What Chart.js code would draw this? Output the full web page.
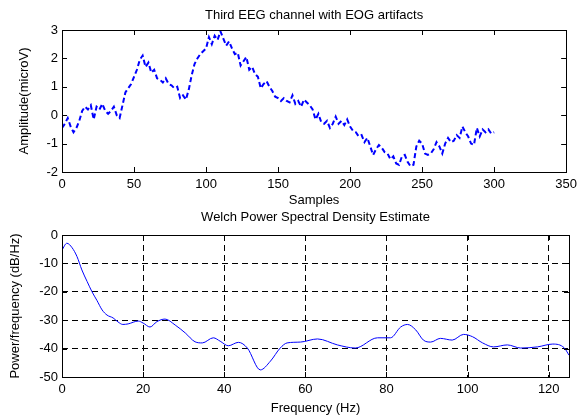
<!DOCTYPE html>
<html>
<head>
<meta charset="utf-8">
<script src="https://cdn.jsdelivr.net/npm/chart.js@4"></script>
<style>
    body { margin: 0; background: #fff; }
    canvas { position: absolute; left: 0; }
    #eegChart { top: 0; }
    #psdChart { top: 210px; }
</style>
</head>
<body>
<canvas id="eegChart" width="582" height="210"></canvas>
<canvas id="psdChart" width="582" height="209"></canvas>
<script>
// third EEG channel, one value every 2 samples (0..300)
var sampleStep = 2;
var eegValues = [
    -0.45, -0.3, -0.1, -0.4, -0.6, -0.45, -0.2, 0.15, 0.3, 0.2,
    0.35, -0.15, 0.3, 0.2, 0.4, 0.15, 0.05, 0.15, 0.3, 0.0,
    -0.1, 0.35, 0.8, 0.95, 1.1,
    1.35, 1.6, 1.95, 2.1, 1.7, 1.85, 1.5, 1.6, 1.3, 1.25,
    1.15, 1.3, 1.1, 1.05, 0.95, 1.0, 0.6, 0.7, 0.55, 0.9,
    1.4, 1.8, 2.0, 2.15, 2.25,
    2.35, 2.75, 2.5, 2.8, 2.65, 2.95, 2.7, 2.45, 2.6, 2.35,
    2.15, 2.2, 1.75, 1.9, 2.05, 1.6, 1.7, 1.45, 1.35, 0.95,
    1.1, 1.2, 1.0, 0.85, 0.65,
    0.6, 0.5, 0.6, 0.5, 0.45, 0.7, 0.4, 0.5, 0.3, 0.55,
    0.45, 0.35, 0.2, -0.15, 0.05, -0.25, -0.3, -0.2, -0.45, -0.3,
    -0.05, -0.3, -0.2, -0.35, -0.15,
    -0.4, -0.55, -0.6, -0.75, -0.7, -0.95, -0.8, -1.1, -1.4, -1.2,
    -1.05, -1.15, -1.3, -1.35, -1.55, -1.45, -1.7, -1.75, -1.45, -1.4,
    -1.65, -1.8, -1.75, -1.1, -0.9,
    -1.0, -1.35, -1.4, -1.35, -1.2, -0.95, -1.1, -1.35, -1.0, -0.8,
    -0.95, -0.9, -0.7, -0.8, -0.4, -0.6, -0.75, -1.0, -1.05, -0.45,
    -0.75, -0.5, -0.6, -0.5, -0.65, -0.6
];

// Welch PSD estimate
var psdFreq = [
    0, 1.2, 2.5, 3.7, 4.9, 6.2, 7.4, 8.6, 9.9, 11.1,
    12.6, 13.8, 15, 16.3, 18.8, 20, 21.7, 23.4, 25.4, 27.9,
    30.4, 32.8, 34.6, 37.3, 39, 41, 43.5, 45.7, 48.9, 51.4,
    53.8, 55.5, 58.8, 63, 67.9, 72.3, 77.8, 81, 83.5, 85.2,
    87.2, 89.1, 90.9, 93.3, 96.2, 99, 101.2, 103.7, 106.4, 109.8,
    113.1, 117.2, 121, 123.8, 125
];
var psdDb = [
    -5.3, -2.9, -4.5, -7.6, -12.3, -16.4, -20, -23, -26.4, -28.2,
    -29.2, -30.6, -31.5, -31.3, -30.3, -31, -32.4, -30.5, -29.6, -31.7,
    -34.5, -37.6, -38, -36.2, -37.4, -39, -37.8, -39.8, -47.5, -44.4,
    -39.8, -38, -37.7, -36.6, -38.7, -39.8, -36.2, -36.2, -32.4, -31.5,
    -33.4, -37, -37.7, -36.4, -37, -35, -35.8, -38, -39.4, -38.7,
    -39.8, -39.4, -38.4, -39.7, -42.3
];

var FONT = "'Liberation Sans', Arial, sans-serif";

// box around the plot with inward tick marks, like matlab
var matlabBox = {
    id: 'matlabBox',
    afterDatasetsDraw: function (chart) {
        var a = chart.chartArea;
        var ctx = chart.ctx;
        var xs = chart.scales.x, ys = chart.scales.y;
        ctx.save();
        ctx.strokeStyle = '#000';
        ctx.lineWidth = 1;
        ctx.setLineDash([]);
        ctx.beginPath();
        xs.ticks.forEach(function (t) {
            var px = Math.round(xs.getPixelForValue(t.value)) + 0.5;
            ctx.moveTo(px, a.bottom); ctx.lineTo(px, a.bottom - 5);
            ctx.moveTo(px, a.top); ctx.lineTo(px, a.top + 5);
        });
        ys.ticks.forEach(function (t) {
            var py = Math.round(ys.getPixelForValue(t.value)) + 0.5;
            ctx.moveTo(a.left, py); ctx.lineTo(a.left + 5, py);
            ctx.moveTo(a.right, py); ctx.lineTo(a.right - 5, py);
        });
        ctx.stroke();
        ctx.strokeRect(Math.round(a.left) + 0.5, Math.round(a.top) + 0.5,
            Math.round(a.right - a.left), Math.round(a.bottom - a.top));
        ctx.restore();
    }
};

function axisTitle(text) {
    return { display: true, text: text, color: '#000', font: { size: 13, family: FONT }, padding: 0 };
}

new Chart(document.getElementById('eegChart'), {
    type: 'line',
    data: {
        datasets: [{
            data: eegValues.map(function (v, i) { return { x: i * sampleStep, y: v }; }),
            borderColor: '#0000ff',
            borderWidth: 2,
            borderDash: [5, 3],
            pointRadius: 0,
            tension: 0,
            fill: false
        }]
    },
    options: {
        responsive: false,
        animation: false,
        layout: { padding: { left: 17, right: 13, top: 0, bottom: 2 } },
        plugins: {
            legend: { display: false },
            tooltip: { enabled: false },
            title: {
                display: true, fullSize: false,
                text: 'Third EEG channel with EOG artifacts',
                color: '#000', font: { size: 13, family: FONT, weight: 'normal' },
                padding: { top: 8, bottom: 6.4 }
            }
        },
        scales: {
            x: {
                type: 'linear', min: 0, max: 350,
                ticks: { stepSize: 50, color: '#000', font: { size: 13, family: FONT }, padding: 5, maxRotation: 0 },
                grid: { display: false, drawTicks: false },
                border: { display: false },
                title: axisTitle('Samples'),
                afterFit: function (s) { s.height = 36; }
            },
            y: {
                min: -2, max: 3,
                ticks: { stepSize: 1, color: '#000', font: { size: 13, family: FONT }, padding: 4 },
                grid: { display: false, drawTicks: false },
                border: { display: false },
                title: axisTitle('Amplitude(microV)'),
                afterFit: function (s) { s.width = 45; }
            }
        }
    },
    plugins: [matlabBox]
});

new Chart(document.getElementById('psdChart'), {
    type: 'line',
    data: {
        datasets: [{
            data: psdFreq.map(function (f, i) { return { x: f, y: psdDb[i] }; }),
            borderColor: '#0000ff',
            borderWidth: 1,
            pointRadius: 0,
            cubicInterpolationMode: 'monotone',
            fill: false
        }]
    },
    options: {
        responsive: false,
        animation: false,
        layout: { padding: { left: 8, right: 13, top: 0, bottom: 3 } },
        plugins: {
            legend: { display: false },
            tooltip: { enabled: false },
            title: {
                display: true, fullSize: false,
                text: 'Welch Power Spectral Density Estimate',
                color: '#000', font: { size: 13, family: FONT, weight: 'normal' },
                padding: { top: 0, bottom: 9.4 }
            }
        },
        scales: {
            x: {
                type: 'linear', min: 0, max: 125,
                ticks: { stepSize: 20, includeBounds: false, color: '#000', font: { size: 13, family: FONT }, padding: 5, maxRotation: 0 },
                grid: { color: '#000', drawTicks: false },
                border: { display: false, dash: [6, 4] },
                title: axisTitle('Frequency (Hz)'),
                afterFit: function (s) { s.height = 39; }
            },
            y: {
                min: -50, max: 0,
                ticks: { stepSize: 10, color: '#000', font: { size: 13, family: FONT }, padding: 4 },
                grid: { color: '#000', drawTicks: false },
                border: { display: false, dash: [6, 4] },
                title: axisTitle('Power/frequency (dB/Hz)'),
                afterFit: function (s) { s.width = 54; }
            }
        }
    },
    plugins: [matlabBox]
});
</script>
</body>
</html>
